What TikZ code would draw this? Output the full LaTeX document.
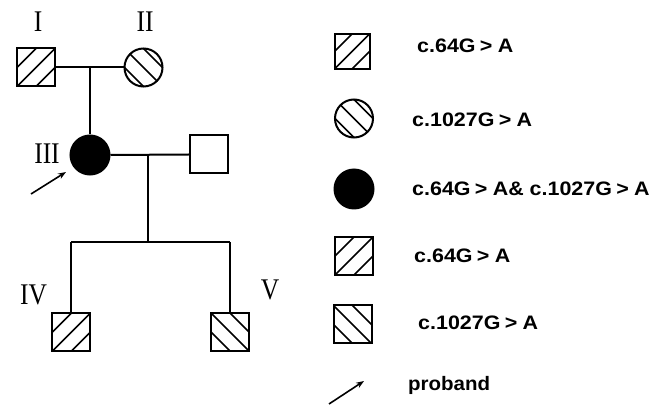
\documentclass[tikz,border=0pt]{standalone}
\usepackage{fontspec}
\usepackage{graphicx}
\setmainfont{Liberation Serif}
\newfontfamily\legfont{Liberation Sans}
\usetikzlibrary{calc,arrows.meta}
\newcommand{\ppb}{path picture bounding box}
\tikzset{
  hatchline/.style={line width=1.6},
  sq/.style={draw, line width=2, rectangle, minimum size=38, inner sep=0},
  ci/.style={draw, line width=2, circle, minimum size=38, inner sep=0},
  hatchNE/.style={path picture={
    \draw[hatchline] (\ppb.south west) -- (\ppb.north east);
    \draw[hatchline] ($(\ppb.south west)!0.5!(\ppb.north west)$) -- ($(\ppb.north west)!0.5!(\ppb.north east)$);
    \draw[hatchline] ($(\ppb.south west)!0.5!(\ppb.south east)$) -- ($(\ppb.south east)!0.5!(\ppb.north east)$);
  }},
  hatchNW/.style={path picture={
    \draw[hatchline] (\ppb.north west) -- (\ppb.south east);
    \draw[hatchline] ($(\ppb.north west)!0.5!(\ppb.north east)$) -- ($(\ppb.north east)!0.5!(\ppb.south east)$);
    \draw[hatchline] ($(\ppb.north west)!0.5!(\ppb.south west)$) -- ($(\ppb.south west)!0.5!(\ppb.south east)$);
  }},
  link/.style={line width=2},
  roman/.style={font=\fontsize{30}{30}\selectfont, inner sep=0},
  leg/.style={font=\legfont\bfseries\fontsize{19.5}{21}\selectfont, inner sep=0, anchor=base west},
  parrow/.style={line width=1.6, -{Stealth[length=8pt,width=6pt]}},
}
\newcommand{\rom}[1]{\scalebox{0.85}[1]{#1}}
\newcommand{\lt}[1]{\scalebox{1.1}[1]{#1}}
\newcommand{\gt}{\hspace{0.2em}>\hspace{0.25em}}
\begin{document}
\begin{tikzpicture}[x=1pt,y=-1pt]
\useasboundingbox (0,0) rectangle (662,406);
% pedigree
\node[sq, hatchNE] (I) at (36,67.5) {};
\node[ci, hatchNW] (II) at (143.5,67.5) {};
\node[circle, fill=black, draw, line width=2, minimum size=39, inner sep=0] (III) at (90,155) {};
\node[sq] (H) at (209,154.5) {};
\node[sq, hatchNE] (IV) at (71,332.5) {};
\node[sq, hatchNW] (V) at (230,332) {};
\coordinate (m1) at (90,67.5);
\coordinate (m2) at (148,154.5);
\coordinate (s) at (148,242);
\coordinate (sL) at (71,242);
\coordinate (sR) at (230,242);
\draw[link] (I.east) -- (II.west);
\draw[link] (m1) -- (III.north);
\draw[link] (III.east) -- (H.west);
\draw[link] (m2) -- (s);
\draw[link] (sL) -- (sR);
\draw[link] (sL) -- (IV.north);
\draw[link] (sR) -- (V.north);
% labels
\node[roman] (lI) at (38,22) {\rom{I}};
\node[roman] (lII) at (145,22) {\rom{II}};
\node[roman] (lIII) at (47,154) {\rom{III}};
\node[roman] (lIV) at (33.5,295) {\rom{IV}};
\node[roman] (lV) at (270,290) {\rom{V}};
% proband arrow
\coordinate (pa) at (31,194);
\coordinate (pb) at (66,172);
\draw[parrow] (pa) -- (pb);
% legend
\node[sq, hatchNE, minimum size=35] (L1) at (352,51.5) {};
\node[ci, hatchNW] (L2) at (354,118.5) {};
\node[circle, fill=black, minimum size=41, inner sep=0] (L3) at (354,189) {};
\node[sq, hatchNE] (L4) at (353.5,256.5) {};
\node[sq, hatchNW] (L5) at (352.5,324.5) {};
\coordinate (la) at (329,404);
\coordinate (lb) at (364,381);
\draw[parrow] (la) -- (lb);
\node[leg] (t1) at (417,53) {\lt{c.64G\gt A}};
\node[leg] (t2) at (412,127) {\lt{c.1027G\gt A}};
\node[leg] (t3) at (412,196) {\lt{c.64G\gt A\& c.1027G\gt A}};
\node[leg] (t4) at (414,263) {\lt{c.64G\gt A}};
\node[leg] (t5) at (418,330) {\lt{c.1027G\gt A}};
\node[leg] (t6) at (408,391) {\scalebox{1.05}[1]{proband}};
\end{tikzpicture}
\end{document}
